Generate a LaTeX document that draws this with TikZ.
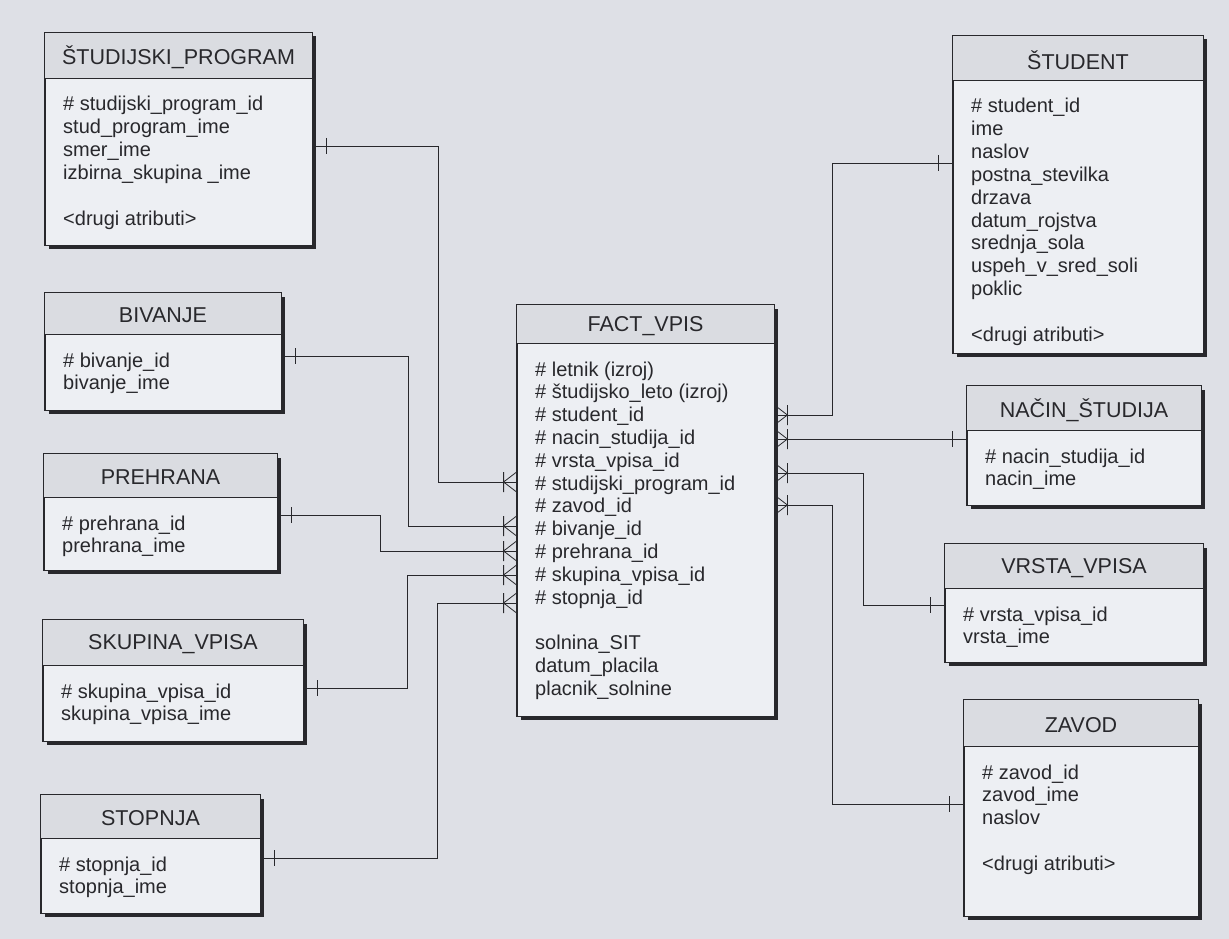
\documentclass[tikz,border=0pt]{standalone}
\usepackage{fontspec}
\setmainfont{Liberation Sans}
\usetikzlibrary{positioning,fit,shadows}

\definecolor{pagegray}{RGB}{222,224,230}
\definecolor{bodyfill}{RGB}{237,239,243}
\definecolor{bandfill}{RGB}{218,220,225}
\definecolor{inkgray}{RGB}{40,40,44}

% one table: name, left, top, right, bottom, title line, title, rows
\newcommand{\entity}[8]{%
  \node[entbox, fit={(#2,#3) (#4,#5)}] (#1) {};
  \fill[bandfill] (#1.north west) rectangle (#1.east |- 0,#6);
  \draw[entline] (#1.west |- 0,#6) -- (#1.east |- 0,#6);
  \draw[entline] (#1.north west) rectangle (#1.south east);
  \pgfmathsetmacro\ty{(#3+#6)/2+2}
  \node[enttitle] (#1-t) at (#1.north |- 0,\ty) {#7};
  \foreach \r [count=\i from 0] in {#8}
    \node[attr] (#1-\i) at ({#2+18},{#6+33+22.8*\i}) {\r};
}
% ends of a relation
\newcommand{\onemark}[2]{\draw[rel] ([shift={({#2*14},-8)}]#1) -- ([shift={({#2*14},8)}]#1);}
\newcommand{\manymark}[2]{\draw[rel] ([shift={(0,-10)}]#1) -- ([shift={({#2*13},0)}]#1) -- ([shift={(0,10)}]#1)
  ([shift={({#2*13},-10)}]#1) -- ([shift={({#2*13},10)}]#1);}

\begin{document}
\begin{tikzpicture}[x=1pt,y=-1pt,line join=miter,
    entbox/.style={draw=inkgray,line width=0.8pt,fill=bodyfill,inner sep=0pt,
      drop shadow={shadow xshift=3.5pt,shadow yshift=-3.5pt,fill=inkgray,opacity=1}},
    entline/.style={draw=inkgray,line width=0.8pt},
    enttitle/.style={inner sep=0pt,text=inkgray,font=\fontsize{21.5}{24}\selectfont},
    attr/.style={anchor=base west,inner sep=0pt,text=inkgray,font=\fontsize{20}{22.8}\selectfont},
    rel/.style={draw=inkgray,line width=0.8pt}]
  \fill[pagegray] (0,0) rectangle (1229,939);

  \entity{sp}{45}{33}{312}{245}{78}{ŠTUDIJSKI\_PROGRAM}{\# studijski\_program\_id, stud\_program\_ime, smer\_ime, izbirna\_skupina \_ime, {}, <drugi atributi>}
  \entity{biv}{45}{293}{281}{410}{334}{BIVANJE}{\# bivanje\_id, bivanje\_ime}
  \entity{preh}{44}{454}{277}{570}{497}{PREHRANA}{\# prehrana\_id, prehrana\_ime}
  \entity{skup}{43}{620}{303}{741}{665}{SKUPINA\_VPISA}{\# skupina\_vpisa\_id, skupina\_vpisa\_ime}
  \entity{stop}{41}{795}{260}{913}{838}{STOPNJA}{\# stopnja\_id, stopnja\_ime}
  \entity{fact}{517}{305}{774}{716}{343}{FACT\_VPIS}{\# letnik (izroj), \# študijsko\_leto (izroj), \# student\_id, \# nacin\_studija\_id, \# vrsta\_vpisa\_id, \# studijski\_program\_id, \# zavod\_id, \# bivanje\_id, \# prehrana\_id, \# skupina\_vpisa\_id, \# stopnja\_id, {}, solnina\_SIT, datum\_placila, placnik\_solnine}
  \entity{stud}{953}{36}{1203}{353}{80}{ŠTUDENT}{\# student\_id, ime, naslov, postna\_stevilka, drzava, datum\_rojstva, srednja\_sola, uspeh\_v\_sred\_soli, poklic, {}, <drugi atributi>}
  \entity{nac}{967}{386}{1201}{505}{430}{NAČIN\_ŠTUDIJA}{\# nacin\_studija\_id, nacin\_ime}
  \entity{vrs}{945}{544}{1203}{662}{588}{VRSTA\_VPISA}{\# vrsta\_vpisa\_id, vrsta\_ime}
  \entity{zav}{964}{700}{1198}{916}{746}{ZAVOD}{\# zavod\_id, zavod\_ime, naslov, {}, <drugi atributi>}

  % left dimensions
  \coordinate (sp-c) at (sp.east |- 0,146);    \coordinate (fa-sp) at (fact.west |- 0,482);
  \coordinate (biv-c) at (biv.east |- 0,356);  \coordinate (fa-biv) at (fact.west |- 0,526);
  \coordinate (preh-c) at (preh.east |- 0,515); \coordinate (fa-preh) at (fact.west |- 0,551);
  \coordinate (skup-c) at (skup.east |- 0,688); \coordinate (fa-skup) at (fact.west |- 0,575);
  \coordinate (stop-c) at (stop.east |- 0,858); \coordinate (fa-stop) at (fact.west |- 0,603);
  \draw[rel] (sp-c) -| (438,482) -- (fa-sp);
  \draw[rel] (biv-c) -| (408,526) -- (fa-biv);
  \draw[rel] (preh-c) -| (380,551) -- (fa-preh);
  \draw[rel] (skup-c) -| (407,575) -- (fa-skup);
  \draw[rel] (stop-c) -| (437,603) -- (fa-stop);
  \foreach \c in {sp-c,biv-c,preh-c,skup-c,stop-c} \onemark{\c}{1};
  \foreach \c in {fa-sp,fa-biv,fa-preh,fa-skup,fa-stop} \manymark{\c}{-1};

  % right dimensions
  \coordinate (stud-c) at (stud.west |- 0,163); \coordinate (fa-stud) at (fact.east |- 0,415);
  \coordinate (nac-c) at (nac.west |- 0,439);   \coordinate (fa-nac) at (fact.east |- 0,439);
  \coordinate (vrs-c) at (vrs.west |- 0,605);   \coordinate (fa-vrs) at (fact.east |- 0,473);
  \coordinate (zav-c) at (zav.west |- 0,804);   \coordinate (fa-zav) at (fact.east |- 0,505);
  \draw[rel] (fa-stud) -| (832,163) -- (stud-c);
  \draw[rel] (fa-nac) -- (nac-c);
  \draw[rel] (fa-vrs) -| (863,605) -- (vrs-c);
  \draw[rel] (fa-zav) -| (832,804) -- (zav-c);
  \foreach \c in {stud-c,nac-c,vrs-c,zav-c} \onemark{\c}{-1};
  \foreach \c in {fa-stud,fa-nac,fa-vrs,fa-zav} \manymark{\c}{1};
\end{tikzpicture}
\end{document}
